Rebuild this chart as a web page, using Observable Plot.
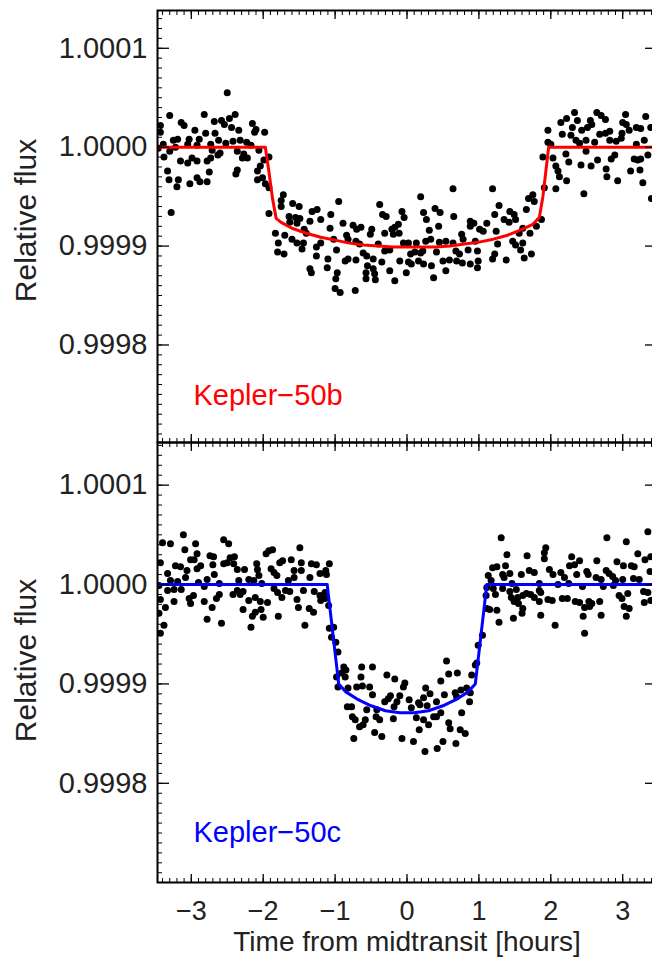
<!DOCTYPE html>
<html>
<head>
<meta charset="utf-8">
<script src="https://cdn.jsdelivr.net/npm/d3@7"></script>
<script src="https://cdn.jsdelivr.net/npm/@observablehq/plot@0.6"></script>
<style>
html, body { margin: 0; padding: 0; background: #fff; overflow: hidden; width: 652px; height: 957px; }
#chart { position: relative; width: 652px; height: 957px; overflow: hidden; }
#chart svg { position: absolute; left: 0; top: 0; }
</style>
</head>
<body>
<div id="chart"></div>
<script>
// ---- Data: time from midtransit [hours], flux deviation [ppm] ----
const kepler50bPoints = [
[-2.50,55],[-3.30,32],[-2.82,33],[-2.39,33],[-2.47,29],[-2.58,27],[-2.68,26],[-3.14,25],[-3.10,22],[-2.54,23],[-2.15,24],[-2.44,20],[-2.10,18],[-2.95,17],[-3.43,22],[-3.43,15],[-2.67,14],[-2.34,17],[-2.12,15],[-1.98,15],[-2.80,14],[-2.89,8],[-3.03,8],[-3.19,8],[-3.25,7],[-2.62,7],[-2.42,6],[-2.32,7],[-2.23,5],[-3.39,3],[-3.05,3],[-2.92,2],[-2.73,3],[-2.52,4],[-2.17,2],[-3.22,0],[-3.46,-1],[-3.30,-4],[-2.71,-3],[-2.60,-6],[-2.36,-4],[-2.27,-7],[-2.06,-3],[-3.38,-10],[-2.99,-11],[-3.15,-14],[-3.05,-16],[-2.92,-14],[-2.78,-14],[-2.73,-11],[-2.29,-11],[-2.22,-11],[-2.63,-8],[-1.92,-10],[-1.99,-13],[-2.04,-19],[-2.36,-23],[-2.38,-27],[-2.75,-25],[-2.08,-24],[-3.33,-24],[-3.31,-33],[-2.92,-31],[-2.88,-35],[-2.78,-35],[-3.18,-33],[-3.20,-40],[-3.02,-37],[-2.08,-33],[-2.01,-31],[-1.97,-37],[-1.92,-41],[-3.28,-66],[-1.92,-67],[-1.72,-48],[-1.75,-54],[-1.75,-60],[-1.59,-57],[-1.50,-60],[-1.64,-70],[-1.55,-71],[-1.49,-72],[-1.63,-76],[-1.53,-77],[-1.32,-65],[-1.25,-63],[-1.35,-75],[-1.20,-73],[-1.43,-83],[-1.40,-87],[-1.83,-87],[-1.70,-89],[-1.60,-93],[-1.53,-97],[-1.44,-97],[-1.79,-97],[-1.46,-103],[-1.80,-106],[-1.71,-108],[-1.26,-101],[-1.20,-97],[-1.26,-110],[-1.35,-123],[-1.33,-127],
[0.64,-42],[0.19,-50],[-0.95,-55],[-0.38,-58],[-1.06,-68],[-0.34,-68],[-0.29,-70],[-0.07,-65],[-0.04,-71],[0.23,-66],[0.39,-62],[0.46,-66],[0.65,-70],[0.27,-73],[0.88,-75],[0.93,-77],[1.11,-77],[-0.89,-77],[-0.75,-79],[-0.64,-81],[-0.70,-83],[-1.07,-82],[-0.49,-83],[-0.51,-88],[-0.31,-87],[-0.21,-83],[-0.17,-81],[-0.12,-78],[-0.19,-88],[-0.11,-87],[0.31,-84],[0.44,-80],[0.88,-80],[1.01,-83],[1.06,-85],[0.76,-88],[-0.84,-89],[-0.82,-93],[-1.02,-93],[-0.71,-95],[-0.66,-98],[-0.40,-98],[-0.05,-97],[0.02,-97],[0.13,-97],[0.26,-95],[0.33,-93],[0.45,-96],[0.54,-95],[0.64,-97],[0.78,-93],[0.95,-95],[-0.98,-104],[-0.61,-107],[-0.56,-110],[-0.31,-105],[-0.24,-104],[0.05,-108],[0.11,-106],[0.19,-107],[0.22,-105],[0.41,-106],[0.68,-105],[0.73,-108],[0.85,-104],[0.98,-105],[-1.10,-113],[-0.86,-115],[-0.82,-113],[-0.71,-114],[-0.47,-113],[-0.35,-116],[-0.10,-115],[0.02,-116],[0.06,-118],[0.16,-115],[0.23,-118],[0.50,-115],[0.59,-114],[0.69,-115],[0.77,-117],[0.88,-118],[0.99,-115],[-1.11,-122],[-0.55,-120],[-0.47,-123],[-0.24,-125],[-0.01,-127],[0.34,-120],[0.54,-125],[0.98,-122],[-0.97,-127],[-0.57,-127],[-0.45,-128],[-0.99,-133],[-0.57,-133],[-0.44,-134],[-0.17,-135],[0.37,-132],[-1.00,-143],[-0.93,-147],[-0.72,-145],
[2.33,35],[2.64,35],[2.70,32],[2.76,28],[3.04,33],[3.32,31],[2.22,29],[2.14,25],[2.37,27],[2.55,27],[2.57,23],[2.51,20],[2.43,17],[3.00,25],[3.05,23],[3.19,20],[1.96,17],[2.30,20],[2.68,13],[2.76,14],[2.82,16],[2.99,14],[3.09,17],[3.25,19],[3.39,20],[2.16,13],[2.28,12],[2.35,7],[2.49,7],[2.61,5],[2.91,6],[1.96,5],[2.00,3],[2.40,4],[2.82,7],[2.98,9],[3.30,7],[3.19,3],[2.21,-7],[2.49,-4],[1.89,-10],[2.03,-11],[2.25,-15],[2.42,-18],[2.56,-19],[2.65,-13],[2.84,-12],[2.89,-8],[3.16,-12],[3.21,-13],[3.25,-12],[3.35,-8],[2.07,-19],[2.10,-24],[2.77,-22],[3.11,-24],[3.24,-23],[2.12,-30],[2.22,-34],[2.78,-30],[2.93,-34],[3.28,-36],[2.07,-42],[1.91,-41],[2.46,-47],[3.40,-52],[1.19,-42],[1.75,-48],[1.69,-52],[1.77,-55],[1.66,-63],[1.28,-59],[1.43,-65],[1.49,-68],[1.22,-68],[1.35,-73],[1.42,-76],[1.51,-73],[1.87,-73],[1.80,-80],[1.61,-82],[1.71,-87],[1.56,-87],[1.24,-85],[1.47,-95],[1.61,-97],[1.26,-98],[1.51,-99],[1.58,-104],[1.73,-108],[1.22,-108],[1.19,-113],[1.38,-114],[1.63,-112]
];

const kepler50cPoints = [
[-3.11,50],[-2.55,45],[-2.48,41],[-3.40,42],[-3.29,41],[-2.94,41],[-3.09,35],[-2.92,31],[-1.49,37],[-1.92,34],[-1.87,35],[-1.96,31],[-2.74,29],[-2.69,28],[-3.01,25],[-2.96,25],[-2.46,27],[-2.40,28],[-2.50,22],[-2.41,21],[-2.55,21],[-3.43,22],[-3.22,19],[-3.15,18],[-2.87,19],[-2.92,16],[-2.70,20],[-2.09,21],[-1.73,24],[-1.77,22],[-1.61,25],[-1.47,22],[-1.33,21],[-1.26,20],[-2.36,15],[-2.26,15],[-2.08,15],[-1.89,16],[-1.85,12],[-1.57,14],[-1.47,14],[-3.06,14],[-3.33,11],[-2.68,10],[-3.08,7],[-2.06,9],[-1.81,9],[-1.57,7],[-1.35,7],[-1.21,11],[-3.29,4],[-3.19,3],[-2.90,2],[-2.78,5],[-2.61,1],[-2.34,4],[-2.20,5],[-2.13,4],[-2.02,1],[-1.65,4],[-3.45,-1],[-3.33,-6],[-3.24,-5],[-3.14,-5],[-2.82,-2],[-2.36,-6],[-2.28,-7],[-1.85,-4],[-1.80,-8],[-1.69,-6],[-1.63,-7],[-1.44,-6],[-1.29,-7],[-2.42,-10],[-2.32,-10],[-2.61,-10],[-2.97,-11],[-1.21,-11],[-3.43,-15],[-3.24,-17],[-3.03,-14],[-2.82,-17],[-2.65,-14],[-2.20,-16],[-2.11,-13],[-2.04,-17],[-1.94,-18],[-1.74,-13],[-1.53,-15],[-1.20,-16],[-3.01,-19],[-3.36,-23],[-2.71,-23],[-2.28,-25],[-2.11,-28],[-2.03,-25],[-1.51,-23],[-1.36,-24],[-1.30,-28],[-3.45,-29],[-2.15,-32],[-2.00,-33],[-1.79,-32],[-2.78,-35],[-2.58,-39],[-1.42,-41],[-3.38,-41],[-2.17,-43],[-3.43,-49],
[-1.08,21],[-1.13,14],[-1.12,10],[-1.14,-8],[-1.14,-14],[-1.09,-21],[-1.08,-44],[-1.02,-43],[-1.05,-53],[-0.99,-58],[-0.96,-68],[-0.88,-83],[-0.85,-86],[-0.91,-89],[-0.86,-93],[-0.98,-93],[-0.63,-83],[-0.48,-83],[-0.64,-93],[-0.28,-91],[-0.17,-95],[-0.03,-99],[0.55,-77],[0.58,-90],[0.70,-89],[0.47,-97],[0.90,-91],[0.95,-81],[-0.70,-103],[-0.62,-102],[-0.52,-103],[-0.96,-103],[-0.82,-104],[-0.05,-103],[0.26,-104],[-0.48,-111],[-0.26,-115],[-0.23,-112],[-0.10,-112],[0.03,-116],[0.16,-119],[0.23,-114],[0.32,-110],[0.41,-118],[0.52,-111],[0.67,-109],[0.75,-106],[0.83,-104],[0.88,-109],[0.69,-113],[-0.83,-123],[-0.77,-123],[-0.56,-126],[-0.42,-126],[-0.31,-118],[-0.18,-123],[-0.14,-118],[0.06,-124],[0.18,-121],[0.28,-122],[0.41,-133],[0.47,-129],[0.87,-118],[0.76,-129],[-0.76,-133],[-0.72,-136],[-0.58,-136],[-0.43,-133],[-0.38,-136],[-0.19,-135],[0.13,-134],[0.23,-136],[0.37,-133],[0.58,-139],[-0.66,-143],[-0.61,-141],[-0.45,-149],[-0.35,-153],[0.30,-141],[0.17,-146],[0.60,-145],[0.74,-146],[0.81,-150],[-0.74,-155],[-0.07,-155],[0.09,-158],[0.50,-158],[0.68,-160],[0.25,-168],[0.42,-165],[1.11,-3],[1.10,-11],[1.11,-24],[1.05,-51],[0.99,-61],[0.97,-79],[1.13,9],
[1.31,47],[2.78,47],[3.05,43],[3.35,53],[1.93,37],[1.91,32],[1.39,30],[1.67,29],[2.29,28],[3.21,31],[2.40,24],[2.64,24],[2.92,23],[3.31,25],[3.39,28],[1.19,17],[1.25,18],[1.37,19],[1.91,26],[2.26,19],[2.33,20],[3.01,19],[3.12,19],[3.16,18],[1.70,14],[1.77,12],[1.98,15],[2.14,12],[2.50,13],[2.77,14],[2.81,11],[3.38,13],[1.33,10],[1.43,11],[1.59,10],[2.03,10],[2.36,10],[2.52,10],[2.63,7],[2.70,5],[2.86,8],[2.90,4],[3.00,5],[3.15,6],[3.23,5],[1.35,7],[1.17,4],[1.46,1],[1.84,1],[2.10,0],[2.19,7],[2.25,1],[2.44,-2],[2.73,-2],[2.87,-1],[1.20,-4],[1.33,-4],[1.43,-7],[1.52,-5],[1.84,-6],[3.29,-7],[3.35,-8],[1.23,-10],[1.66,-9],[1.72,-10],[1.86,-8],[2.95,-11],[3.07,-9],[1.45,-13],[1.54,-13],[1.61,-11],[1.77,-13],[1.96,-15],[2.02,-16],[2.16,-14],[2.23,-14],[2.34,-17],[2.40,-18],[2.53,-17],[2.57,-19],[2.68,-17],[2.99,-14],[3.30,-18],[3.39,-16],[1.49,-17],[1.55,-19],[1.84,-17],[1.61,-24],[2.47,-23],[2.54,-22],[3.02,-22],[3.09,-24],[1.15,-25],[1.25,-26],[1.60,-29],[1.86,-31],[2.45,-32],[2.70,-31],[3.05,-32],[1.48,-34],[1.28,-38],[2.06,-41],[2.47,-49]
];

// Transit model curves
const kepler50bModelTime = [-3.5,-1.97,-1.92,-1.87,-1.82,-1.75,-1.6,-1.4,-1.2,-1.0,-0.8,-0.6,-0.4,-0.2,0,0.2,0.4,0.6,0.8,1.0,1.2,1.4,1.6,1.75,1.84,1.89,1.93,1.97,3.5];
const kepler50bModelPpm  = [0,0,-25,-52,-72,-76,-82,-87,-91,-94,-97,-99,-100,-101,-101,-101,-101,-100,-98,-96,-93,-89,-83,-78,-71,-50,-25,0,0];
const kepler50cModelTime = [-3.5,-1.11,-1.07,-1.03,-0.99,-0.95,-0.85,-0.7,-0.5,-0.3,-0.1,0,0.1,0.3,0.5,0.7,0.85,0.95,0.99,1.03,1.07,1.11,3.5];
const kepler50cModelPpm  = [0,0,-25,-50,-75,-100,-108,-115,-122,-127,-129,-129,-129,-127,-122,-115,-108,-100,-75,-50,-25,0,0];

const planetNames = ["Kepler\u221250b", "Kepler\u221250c"];
const planetColors = ["#ff0000", "#0000ff"];
const yTickValues = [0.9998, 0.9999, 1.0000, 1.0001];
const xTickValues = [-3, -2, -1, 0, 1, 2, 3];
const yAxisTitle = "Relative flux";
const xAxisTitle = "Time from midtransit [hours]";

const toFlux = ppm => 1 + ppm * 1e-6;
const FONT = "'Liberation Sans', Arial, Helvetica, sans-serif";
const W = 660, H = 957;
const xDomain = [-3.47, 3.47];
const xMinor = d3.range(-34, 35).map(i => i / 10);

function panel({points, modelT, modelP, name, color, top, bottom, yDomain, labelDy, titleDy, showX}) {
  const pts = points.map(([t, p]) => ({t, f: toFlux(p)}));
  const model = modelT.map((t, i) => ({t, f: toFlux(modelP[i])}));
  const yMinor = d3.range(0, 46).map(i => +(0.99970 + i * 1e-5).toFixed(5))
    .filter(v => v >= yDomain[0] && v <= yDomain[1]);
  const blank = () => "";
  const marks = [
    Plot.dot(pts, {x: "t", y: "f", r: 3.5, fill: "#000", stroke: null, clip: true}),
    Plot.line(model, {x: "t", y: "f", stroke: color, strokeWidth: 3, clip: true}),
    Plot.axisY(yMinor, {anchor: "left", tickSize: -5, tickFormat: blank, label: null, stroke: "#000"}),
    Plot.axisY(yMinor, {anchor: "right", tickSize: -5, tickFormat: blank, label: null, stroke: "#000"}),
    Plot.axisY(yTickValues, {anchor: "left", tickSize: -12, tickPadding: 22, tickFormat: d3.format(".4f"),
      label: null, fontSize: 29, fill: "#222", stroke: "#000", strokeWidth: 1.3}),
    Plot.axisY(yTickValues, {anchor: "right", tickSize: -12, tickFormat: blank, label: null, stroke: "#000", strokeWidth: 1.3}),
    Plot.axisX(xMinor, {anchor: "top", tickSize: -4, tickFormat: blank, label: null, stroke: "#000"}),
    Plot.axisX(xMinor, {anchor: "bottom", tickSize: -4, tickFormat: blank, label: null, stroke: "#000"}),
    Plot.axisX(xTickValues, {anchor: "top", tickSize: -8, tickFormat: blank, label: null, stroke: "#000", strokeWidth: 1.3}),
    Plot.axisX(xTickValues, {anchor: "bottom", tickSize: -8, tickPadding: 26,
      tickFormat: showX ? d3.format("d") : blank, label: null, fontSize: 27, fill: "#222", stroke: "#000", strokeWidth: 1.3}),
    Plot.frame({stroke: "#000", strokeWidth: 2}),
    Plot.text([name], {frameAnchor: "bottom-left", dx: 36, dy: labelDy, textAnchor: "start", lineAnchor: "middle",
      fill: color, fontSize: 29}),
    Plot.text([yAxisTitle], {frameAnchor: "left", dx: -131, dy: titleDy, rotate: -90, textAnchor: "middle",
      lineAnchor: "middle", fill: "#222", fontSize: 30})
  ];
  if (showX) {
    marks.push(Plot.text([xAxisTitle], {frameAnchor: "bottom", dy: 60, textAnchor: "middle", lineAnchor: "middle",
      fill: "#222", fontSize: 28}));
  }
  return Plot.plot({
    width: W, height: H,
    marginLeft: 157, marginRight: 4, marginTop: top, marginBottom: H - bottom,
    style: `font-family: ${FONT}; max-width: none; background: transparent; overflow: visible;`,
    x: {domain: xDomain, axis: null},
    y: {domain: yDomain, axis: null},
    marks
  });
}

const chart = document.getElementById("chart");
chart.appendChild(panel({
  points: kepler50bPoints, modelT: kepler50bModelTime, modelP: kepler50bModelPpm,
  name: planetNames[0], color: planetColors[0], top: 10, bottom: 442,
  yDomain: [0.9997014, 1.0001382], labelDy: -47, titleDy: -6, showX: false
}));
chart.appendChild(panel({
  points: kepler50cPoints, modelT: kepler50cModelTime, modelP: kepler50cModelPpm,
  name: planetNames[1], color: planetColors[1], top: 442, bottom: 882,
  yDomain: [0.9997002, 1.0001429], labelDy: -50, titleDy: -2, showX: true
}));
</script>
</body>
</html>
